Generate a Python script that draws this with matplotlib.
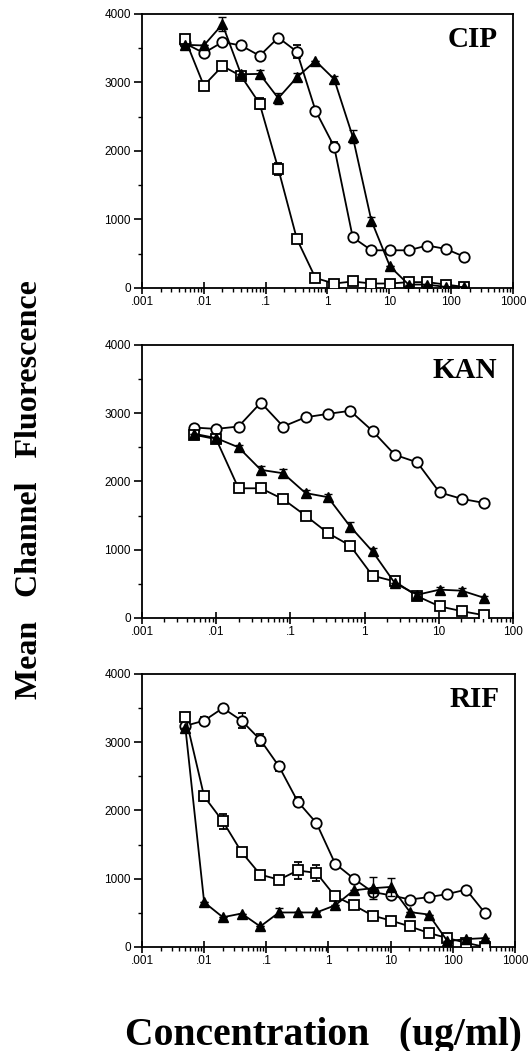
import matplotlib
matplotlib.use("Agg")
import matplotlib.pyplot as plt
import numpy as np
from matplotlib.ticker import FixedLocator, NullFormatter

# concentrations (two-fold dilutions, ug/ml)
conc_cip = [0.005, 0.01, 0.02, 0.04, 0.08, 0.16, 0.32, 0.64, 1.28, 2.56,
            5.12, 10.24, 20.48, 40.96, 81.92, 163.84]
conc_kan = [0.005, 0.01, 0.02, 0.04, 0.08, 0.16, 0.32, 0.64, 1.28, 2.56,
            5.12, 10.24, 20.48, 40.96]
conc_rif = [0.005, 0.01, 0.02, 0.04, 0.08, 0.16, 0.32, 0.64, 1.28, 2.56,
            5.12, 10.24, 20.48, 40.96, 81.92, 163.84, 327.68]

# CIP
cip_circ = [3570, 3430, 3590, 3540, 3390, 3655, 3450, 2590, 2065, 740,
            550, 550, 550, 620, 570, 455]
cip_circ_err = [0, 0, 0, 0, 0, 0, 90, 0, 60, 0, 0, 0, 0, 0, 0, 0]
cip_tri = [3550, 3540, 3850, 3120, 3125, 2770, 3075, 3315, 3050, 2210,
           985, 315, 50, 50, 15, 15]
cip_tri_err = [0, 0, 100, 0, 60, 80, 60, 0, 50, 100, 50, 0, 0, 0, 0, 0]
cip_sq = [3630, 2955, 3240, 3095, 2690, 1740, 715, 145, 65, 95,
          65, 65, 85, 85, 50, 15]
cip_sq_err = [0, 0, 0, 0, 80, 90, 0, 0, 0, 0, 0, 0, 0, 0, 0, 0]

# KAN
kan_circ = [2790, 2770, 2805, 3155, 2805, 2940, 2990, 3035, 2740, 2390,
            2280, 1840, 1745, 1685]
kan_circ_err = [0, 0, 0, 0, 0, 0, 0, 0, 0, 0, 0, 0, 0, 0]
kan_tri = [2700, 2635, 2500, 2170, 2120, 1830, 1770, 1340, 975, 510,
           340, 415, 400, 295]
kan_tri_err = [0, 0, 40, 50, 60, 50, 50, 60, 50, 0, 40, 40, 40, 30]
kan_sq = [2685, 2620, 1900, 1900, 1740, 1500, 1245, 1060, 620, 535,
          320, 170, 100, 40]
kan_sq_err = [0, 0, 0, 0, 0, 0, 0, 0, 0, 0, 0, 0, 0, 0]

# RIF
rif_circ = [3240, 3315, 3500, 3315, 3035, 2645, 2130, 1815, 1220, 1000,
            805, 755, 695, 730, 775, 840, 500]
rif_circ_err = [0, 60, 0, 110, 90, 70, 60, 0, 0, 0, 0, 0, 0, 0, 0, 0, 0]
rif_sq = [3375, 2205, 1840, 1390, 1060, 985, 1120, 1085, 740, 610,
          460, 385, 300, 205, 130, 60, 0]
rif_sq_err = [0, 60, 110, 0, 0, 60, 130, 120, 0, 0, 0, 0, 0, 0, 0, 0, 0]
rif_tri = [3205, 655, 435, 490, 300, 505, 505, 505, 610, 830,
           860, 880, 510, 475, 85, 115, 130]
rif_tri_err = [0, 0, 0, 0, 0, 60, 0, 0, 0, 0, 160, 130, 0, 0, 0, 0, 0]

plt.rcParams['font.family'] = ['Liberation Sans', 'DejaVu Sans']

fig = plt.figure(figsize=(5.29, 10.51), dpi=100)

panels = [
    ("CIP", [0.2684, 0.7260, 0.7013, 0.2607], conc_cip, 1000,
     cip_circ, cip_circ_err, cip_sq, cip_sq_err, cip_tri, cip_tri_err),
    ("KAN", [0.2684, 0.4120, 0.7013, 0.2598], conc_kan, 100,
     kan_circ, kan_circ_err, kan_sq, kan_sq_err, kan_tri, kan_tri_err),
    ("RIF", [0.2684, 0.0990, 0.7051, 0.2598], conc_rif, 1000,
     rif_circ, rif_circ_err, rif_sq, rif_sq_err, rif_tri, rif_tri_err),
]

labels_all = ['.001', '.01', '.1', '1', '10', '100', '1000']

for name, pos, x, xmax, yc, ec, ys, es, yt, et in panels:
    ax = fig.add_axes(pos)
    x = np.array(x)
    kw = dict(color='black', lw=1.3, capsize=3, elinewidth=1, capthick=1)
    ax.errorbar(x, yc, yerr=ec, marker='o', ms=7.5, mfc='white', mec='black',
                mew=1.3, zorder=3, **kw)
    ax.errorbar(x, ys, yerr=es, marker='s', ms=7, mfc='white', mec='black',
                mew=1.3, zorder=4, **kw)
    ax.errorbar(x, yt, yerr=et, marker='^', ms=7.5, mfc='black', mec='black',
                mew=1, zorder=5, **kw)

    ax.set_xscale('log')
    ax.set_xlim(0.001, xmax)
    ax.set_ylim(0, 4000)
    majors = [10.0 ** k for k in range(-3, int(np.log10(xmax)) + 1)]
    ax.xaxis.set_major_locator(FixedLocator(majors))
    ax.set_xticklabels(labels_all[:len(majors)])
    minors = [m * d for d in majors[:-1] for m in range(2, 10)]
    ax.xaxis.set_minor_locator(FixedLocator(minors))
    ax.xaxis.set_minor_formatter(NullFormatter())
    ax.set_yticks([0, 1000, 2000, 3000, 4000])
    ax.set_yticks([500, 1500, 2500, 3500], minor=True)

    ax.tick_params(axis='x', which='major', direction='inout', length=8,
                   width=1.2, labelsize=8.5, pad=2)
    ax.tick_params(axis='x', which='minor', direction='out', length=3,
                   width=1)
    ax.tick_params(axis='y', which='major', direction='out', length=6,
                   width=1.2, labelsize=8.5, pad=2)
    ax.tick_params(axis='y', which='minor', direction='out', length=3,
                   width=1)
    for s in ax.spines.values():
        s.set_linewidth(1.3)

    ax.text(0.958, 0.955, name, transform=ax.transAxes, ha='right', va='top',
            fontsize=21, fontweight='bold', family='Liberation Serif')

fig.text(0.055, 0.534, 'Mean   Channel   Fluorescence', rotation=90,
         ha='center', va='center', fontsize=23, fontweight='bold',
         family='Liberation Serif')
fig.text(125 / 529, 1 - 1045 / 1051, 'Concentration   (ug/ml)', ha='left',
         va='baseline', fontsize=28.5, fontweight='bold',
         family='Liberation Serif')

fig.savefig('out.png', dpi=100)
